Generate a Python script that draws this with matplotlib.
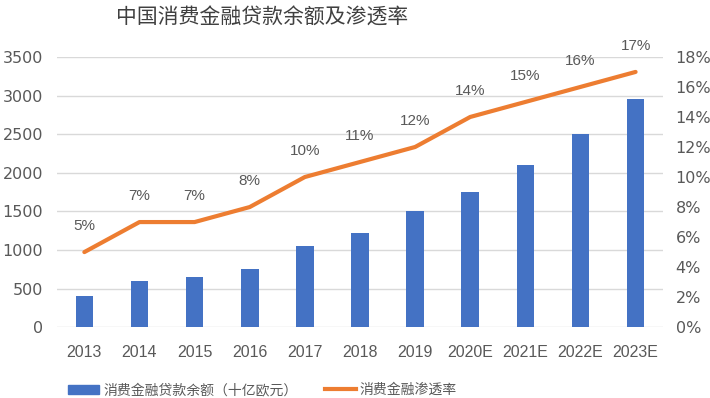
import numpy as np
import matplotlib.pyplot as plt
from matplotlib.patches import Patch
from matplotlib.lines import Line2D
from matplotlib.ticker import FuncFormatter

plt.rcParams['font.family'] = ['DejaVu Sans', 'Noto Sans CJK SC']

years = ["2013", "2014", "2015", "2016", "2017", "2018", "2019", "2020E", "2021E", "2022E", "2023E"]
loan_balance = [400, 600, 650, 750, 1050, 1225, 1500, 1750, 2100, 2500, 2950]
penetration = [5, 7, 7, 8, 10, 11, 12, 14, 15, 16, 17]

BLUE = '#4472C4'
ORANGE = '#ED7D31'
GREY = '#595959'
GRID = '#D9D9D9'
CJK = ['Noto Sans CJK SC', 'DejaVu Sans']

fig = plt.figure(figsize=(7.1, 3.98), dpi=100)
ax = fig.add_axes([0.080, 0.178, 0.854, 0.679])
ax2 = ax.twinx()

x = np.arange(len(years))
ax.bar(x, loan_balance, width=0.32, color=BLUE, zorder=2)
ax.set_ylim(0, 3500)
ax.set_yticks(np.arange(0, 3501, 500))
ax.set_xlim(-0.5, len(years) - 0.5)
ax.set_xticks(x)
ax.set_xticklabels(years, family='Liberation Sans')
ax.yaxis.grid(True, color=GRID, lw=1, zorder=0)
ax.set_axisbelow(True)

ax2.plot(x, penetration, color=ORANGE, lw=3, solid_capstyle='round', zorder=3)
ax2.set_ylim(0, 18)
ax2.set_yticks(np.arange(0, 19, 2))
ax2.yaxis.set_major_formatter(FuncFormatter(lambda v, p: '%d%%' % v))
for xi, p in zip(x, penetration):
    ax2.annotate('%d%%' % p, (xi, p), xytext=(0, 19), textcoords='offset points',
                 ha='center', va='center', fontsize=11, color=GREY,
                 family='Liberation Sans')

for a in (ax, ax2):
    for s in a.spines.values():
        s.set_visible(False)
    a.tick_params(length=0, colors=GREY, labelsize=11.5)
ax.tick_params(axis='y', pad=10)
ax.tick_params(axis='x', pad=13, labelsize=11.5)
ax2.tick_params(axis='y', pad=9)

fig.text(0.369, 0.955, '中国消费金融贷款余额及渗透率', ha='center', va='center',
         fontsize=15, color='#404040', family=CJK)

handles = [Patch(color=BLUE), Line2D([0], [0], color=ORANGE, lw=3)]
labels = ['消费金融贷款余额（十亿欧元）', '消费金融渗透率']
fig.legend(handles, labels, loc='center', bbox_to_anchor=(0.37, 0.02), ncol=2,
           frameon=False, prop={'family': CJK, 'size': 10}, handlelength=2.2,
           handleheight=0.6, handletextpad=0.3, columnspacing=2.0, labelcolor=GREY)

fig.savefig('out.png', dpi=100)
